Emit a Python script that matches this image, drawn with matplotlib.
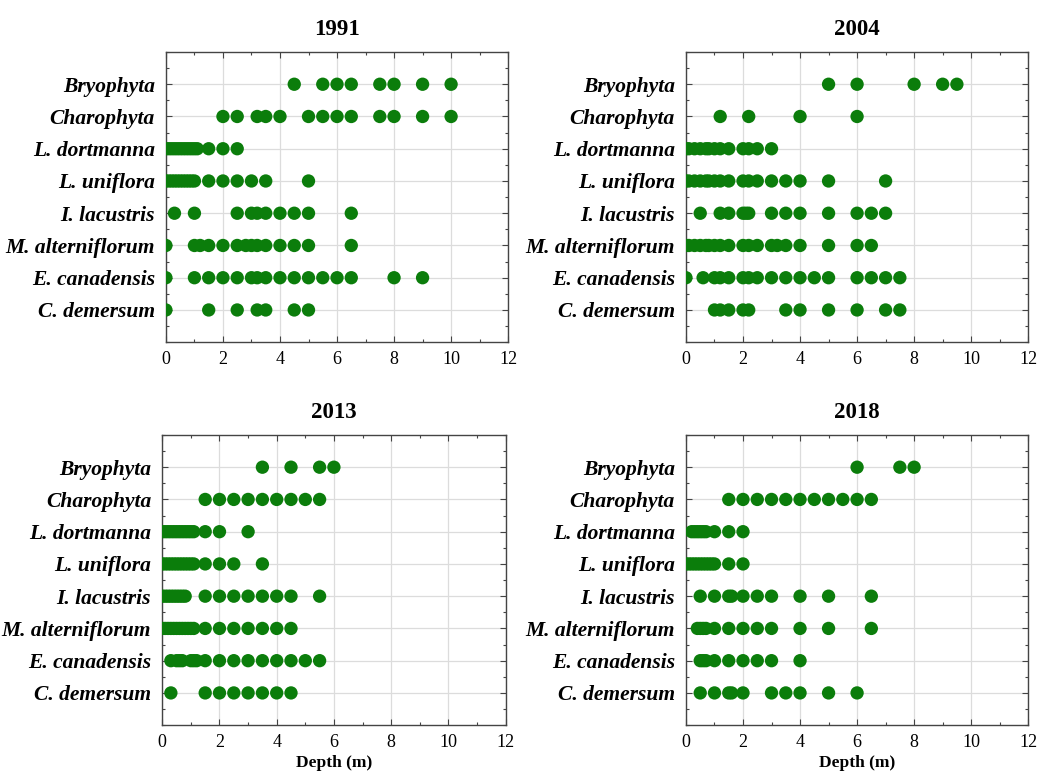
#!/usr/bin/env python3
"""Depth distribution of macrophyte taxa in four survey years (dot strip plot)."""

import matplotlib
matplotlib.use("Agg")
import matplotlib.pyplot as plt
from matplotlib.ticker import MultipleLocator

# ---------------------------------------------------------------------------
# Data: depths (m) at which each taxon was recorded
# ---------------------------------------------------------------------------

taxa = ["C. demersum", "E. canadensis", "M. alterniflorum", "I. lacustris",
        "L. uniflora", "L. dortmanna", "Charophyta", "Bryophyta"]   # bottom -> top

years = ["1991", "2004", "2013", "2018"]

depths_1991 = {
    "Bryophyta":        [4.5, 5.5, 6, 6.5, 7.5, 8, 9, 10],
    "Charophyta":       [2, 2.5, 3.2, 3.5, 4, 5, 5.5, 6, 6.5, 7.5, 8, 9, 10],
    "L. dortmanna":     [0, 0.1, 0.2, 0.3, 0.4, 0.5, 0.6, 0.7, 0.8, 0.9, 1.0, 1.1, 1.5, 2, 2.5],
    "L. uniflora":      [0, 0.1, 0.2, 0.3, 0.4, 0.5, 0.6, 0.7, 0.8, 0.9, 1.0, 1.5, 2, 2.5, 3, 3.5, 5],
    "I. lacustris":     [0.3, 1, 2.5, 3, 3.2, 3.5, 4, 4.5, 5, 6.5],
    "M. alterniflorum": [0, 1, 1.2, 1.5, 2, 2.5, 2.8, 3, 3.2, 3.5, 4, 4.5, 5, 6.5],
    "E. canadensis":    [0, 1, 1.5, 2, 2.5, 3, 3.2, 3.5, 4, 4.5, 5, 5.5, 6, 6.5, 8, 9],
    "C. demersum":      [0, 1.5, 2.5, 3.2, 3.5, 4.5, 5],
}

depths_2004 = {
    "Bryophyta":        [5, 6, 8, 9, 9.5],
    "Charophyta":       [1.2, 2.2, 4, 6],
    "L. dortmanna":     [0, 0.1, 0.3, 0.5, 0.7, 0.8, 1, 1.2, 1.5, 2, 2.2, 2.5, 3],
    "L. uniflora":      [0, 0.1, 0.3, 0.5, 0.7, 0.8, 1, 1.2, 1.5, 2, 2.2, 2.5, 3, 3.5, 4, 5, 7],
    "I. lacustris":     [0.5, 1.2, 1.5, 2, 2.1, 2.2, 3, 3.5, 4, 5, 6, 6.5, 7],
    "M. alterniflorum": [0, 0.1, 0.3, 0.5, 0.7, 0.8, 1, 1.2, 1.5, 2, 2.2, 2.5, 3, 3.2, 3.5, 4, 5, 6, 6.5],
    "E. canadensis":    [0, 0.6, 1, 1.2, 1.5, 2, 2.2, 2.5, 3, 3.5, 4, 4.5, 5, 6, 6.5, 7, 7.5],
    "C. demersum":      [1, 1.2, 1.5, 2, 2.2, 3.5, 4, 5, 6, 7, 7.5],
}

depths_2013 = {
    "Bryophyta":        [3.5, 4.5, 5.5, 6],
    "Charophyta":       [1.5, 2, 2.5, 3, 3.5, 4, 4.5, 5, 5.5],
    "L. dortmanna":     [0, 0.1, 0.2, 0.3, 0.4, 0.5, 0.6, 0.7, 0.8, 0.9, 1.0, 1.1, 1.5, 2, 3],
    "L. uniflora":      [0, 0.1, 0.2, 0.3, 0.4, 0.5, 0.6, 0.7, 0.8, 0.9, 1.0, 1.1, 1.5, 2, 2.5, 3.5],
    "I. lacustris":     [0, 0.1, 0.2, 0.3, 0.4, 0.5, 0.6, 0.7, 0.8, 1.5, 2, 2.5, 3, 3.5, 4, 4.5, 5.5],
    "M. alterniflorum": [0, 0.1, 0.2, 0.3, 0.4, 0.5, 0.6, 0.7, 0.8, 0.9, 1.0, 1.1, 1.5, 2, 2.5, 3, 3.5, 4, 4.5],
    "E. canadensis":    [0.3, 0.5, 0.6, 0.7, 1.0, 1.1, 1.2, 1.5, 2, 2.5, 3, 3.5, 4, 4.5, 5, 5.5],
    "C. demersum":      [0.3, 1.5, 2, 2.5, 3, 3.5, 4, 4.5],
}

depths_2018 = {
    "Bryophyta":        [6, 7.5, 8],
    "Charophyta":       [1.5, 2, 2.5, 3, 3.5, 4, 4.5, 5, 5.5, 6, 6.5],
    "L. dortmanna":     [0.2, 0.3, 0.4, 0.5, 0.6, 0.7, 1.0, 1.5, 2],
    "L. uniflora":      [0, 0.1, 0.2, 0.3, 0.4, 0.5, 0.6, 0.7, 0.8, 0.9, 1.0, 1.5, 2],
    "I. lacustris":     [0.5, 1, 1.5, 1.6, 2, 2.5, 3, 4, 5, 6.5],
    "M. alterniflorum": [0.4, 0.5, 0.6, 0.7, 1, 1.5, 2, 2.5, 3, 4, 5, 6.5],
    "E. canadensis":    [0.5, 0.6, 0.7, 1, 1.5, 2, 2.5, 3, 4],
    "C. demersum":      [0.5, 1, 1.5, 1.6, 2, 3, 3.5, 4, 5, 6],
}

x_ticks = [0, 2, 4, 6, 8, 10, 12]

# ---------------------------------------------------------------------------
# Plot
# ---------------------------------------------------------------------------

SERIF = ["Liberation Serif", "DejaVu Serif"]
DOT = "#0b7d0b"

fig = plt.figure(figsize=(10.37, 7.76), dpi=100)

# axes boxes in figure fractions (left, bottom, width, height)
boxes = [
    (0.160, 0.559, 0.330, 0.374),
    (0.6615, 0.559, 0.330, 0.374),
    (0.1565, 0.0655, 0.331, 0.374),
    (0.6615, 0.0655, 0.330, 0.374),
]
all_depths = [depths_1991, depths_2004, depths_2013, depths_2018]

for i, (year, box, data) in enumerate(zip(years, boxes, all_depths)):
    ax = fig.add_axes(box)
    for row, name in enumerate(taxa, start=1):
        xs = data[name]
        ax.scatter(xs, [row] * len(xs), s=92, color=DOT, edgecolors="none", zorder=3)

    ax.set_xlim(0, 12)
    ax.set_ylim(0, len(taxa) + 1)
    ax.set_xticks(x_ticks)
    ax.set_xticklabels([str(t) for t in x_ticks], fontfamily=SERIF, fontsize=13)
    ax.xaxis.set_minor_locator(MultipleLocator(1))
    ax.set_yticks(range(1, len(taxa) + 1))
    ax.set_yticklabels(taxa, fontfamily=SERIF, fontsize=15.5,
                       fontweight="bold", fontstyle="italic")
    ax.yaxis.set_minor_locator(MultipleLocator(0.5))

    ax.tick_params(which="both", direction="in", top=True, right=True,
                   color="#444444", width=0.8)
    ax.tick_params(which="major", length=4)
    ax.tick_params(which="minor", length=2.5)
    ax.tick_params(axis="y", pad=8)
    ax.tick_params(axis="x", pad=6)

    ax.grid(True, which="major", color="#dcdcdc", linewidth=0.9, zorder=0)
    ax.set_axisbelow(True)
    for sp in ax.spines.values():
        sp.set_color("#444444")
        sp.set_linewidth(1.0)

    ax.set_title(year, fontfamily=SERIF, fontsize=16.5, fontweight="bold", pad=12)
    if i >= 2:
        ax.set_xlabel("Depth (m)", fontfamily=SERIF, fontsize=12.5,
                      fontweight="bold", labelpad=3)

fig.savefig("out.png", dpi=100)
